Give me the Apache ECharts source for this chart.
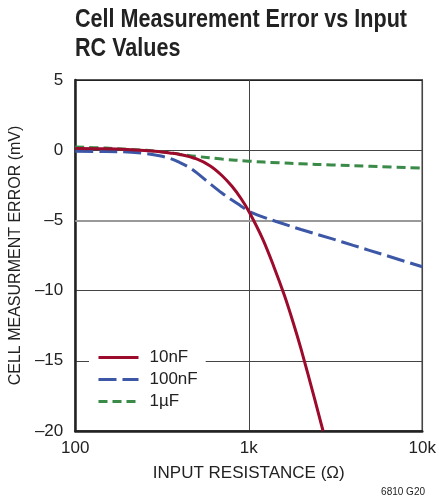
<!DOCTYPE html>
<html>
<head>
<meta charset="utf-8">
<script src="https://cdn.jsdelivr.net/npm/echarts@6/dist/echarts.min.js"></script>
<style>html,body{margin:0;padding:0;background:#fff}#c{width:439px;height:502px}</style>
</head>
<body>
<div id="c"></div>
<script>
var titleLines = ['Cell Measurement Error vs Input', 'RC Values'];
var xAxisName = 'INPUT RESISTANCE (Ω)';
var yAxisName = 'CELL MEASURMENT ERROR (mV)';
var footNote = '6810 G20';
var xTickLabels = {100: '100', 1000: '1k', 10000: '10k'};
var seriesNames = ['10nF', '100nF', '1µF'];

var red10nF = [[100,0.12],[150,0.1],[200,0.05],[250,-0.02],[300,-0.1],[350,-0.2],[400,-0.3],[500,-0.62],[600,-1.12],[700,-1.8],[800,-2.57],[900,-3.42],[1000,-4.35],[1200,-6.3],[1400,-8.35],[1600,-10.3],[1800,-12.25],[2000,-14.15],[2400,-17.75],[2680,-20]];
var blue100nF = [[100,-0.07],[150,-0.1],[200,-0.13],[250,-0.22],[300,-0.38],[350,-0.58],[400,-0.88],[450,-1.2],[500,-1.6],[600,-2.4],[700,-3.05],[800,-3.55],[900,-3.97],[1000,-4.35],[1200,-4.75],[1500,-5.15],[2000,-5.65],[3000,-6.3],[4000,-6.78],[6000,-7.45],[10000,-8.3]];
var green1uF = [[100,0.22],[150,0.15],[200,0.06],[300,-0.08],[400,-0.28],[500,-0.44],[700,-0.63],[1000,-0.78],[1500,-0.9],[2000,-0.97],[3000,-1.05],[5000,-1.15],[10000,-1.27]];

var FONT = '"Liberation Sans", Arial, sans-serif';
function textWidth(t, font) {
  var ctx = document.createElement('canvas').getContext('2d');
  ctx.font = font;
  return ctx.measureText(t).width;
}
var titleFont = 'bold 25px ' + FONT;
var titleScale = 332 / textWidth(titleLines[0], titleFont);

var chart = echarts.init(document.getElementById('c'), null, {renderer: 'canvas'});
chart.setOption({
  animation: false,
  backgroundColor: '#fff',
  grid: {left: 74, right: 14, top: 80, bottom: 71, show: true, borderColor: '#222', borderWidth: 1.5, backgroundColor: 'transparent'},
  legend: {
    left: 89, top: 345, orient: 'vertical', itemGap: 5, itemWidth: 40, itemHeight: 14,
    backgroundColor: '#fff', padding: [4, 8, 4, 8],
    itemStyle: {opacity: 0},
    lineStyle: {width: 3},
    textStyle: {fontFamily: FONT, fontSize: 17, color: '#222', padding: [0, 0, 0, 6]},
    data: seriesNames
  },
  xAxis: {
    type: 'log', logBase: 10, min: 100, max: 10000,
    name: xAxisName, nameLocation: 'middle', nameGap: 34,
    nameTextStyle: {fontFamily: FONT, fontSize: 17, color: '#222'},
    axisLine: {onZero: false, lineStyle: {color: '#222', width: 2.5}},
    axisTick: {show: false},
    axisLabel: {fontFamily: FONT, fontSize: 17, color: '#222', margin: 9,
      formatter: function(v){return xTickLabels[Math.round(v)] || '';}},
    splitLine: {show: true, lineStyle: {color: '#444', width: 1}},
    minorTick: {show: false}
  },
  yAxis: {
    type: 'value', min: -20, max: 5, interval: 5,
    name: yAxisName, nameLocation: 'middle', nameGap: 42,
    nameTextStyle: {fontFamily: FONT, fontSize: 16, color: '#222'},
    axisLine: {onZero: false, lineStyle: {color: '#222', width: 2.5}},
    axisTick: {show: false},
    axisLabel: {fontFamily: FONT, fontSize: 17, color: '#222', margin: 12,
      formatter: function(v){return v < 0 ? '\u2013' + Math.abs(v) : String(v);}},
    splitLine: {show: true, lineStyle: {color: ['#222','#444','#444','#999','#444','#222'], width: 1}}
  },
  graphic: [
    {type: 'text', x: 75, y: 8, scaleX: titleScale, originX: 0,
      style: {text: titleLines[0], font: titleFont, fill: '#222', verticalAlign: 'top'}},
    {type: 'text', x: 75, y: 37, scaleX: titleScale, originX: 0,
      style: {text: titleLines[1], font: titleFont, fill: '#222', verticalAlign: 'top'}},
    {type: 'text', right: 14, top: 487,
      style: {text: footNote, font: '10px ' + FONT, fill: '#222'}}
  ],
  series: [
    {name: seriesNames[0], type: 'line', data: red10nF, symbol: 'none', smooth: 0.35, z: 5,
      lineStyle: {color: '#9c0a2c', width: 3}, itemStyle: {color: '#9c0a2c'},
      markLine: {silent: true, symbol: 'none', label: {show: false}, z: 1,
        lineStyle: {color: '#999', width: 2, type: 'solid'}, data: [{yAxis: -5}]}},
    {name: seriesNames[1], type: 'line', data: blue100nF, symbol: 'none', smooth: 0.35, z: 4,
      lineStyle: {color: '#3b57a6', width: 3, type: [18, 6]}, itemStyle: {color: '#3b57a6'}},
    {name: seriesNames[2], type: 'line', data: green1uF, symbol: 'none', smooth: 0.35, z: 3,
      lineStyle: {color: '#3a8a48', width: 3, type: [9, 5]}, itemStyle: {color: '#3a8a48'}}
  ]
});
</script>
</body>
</html>
